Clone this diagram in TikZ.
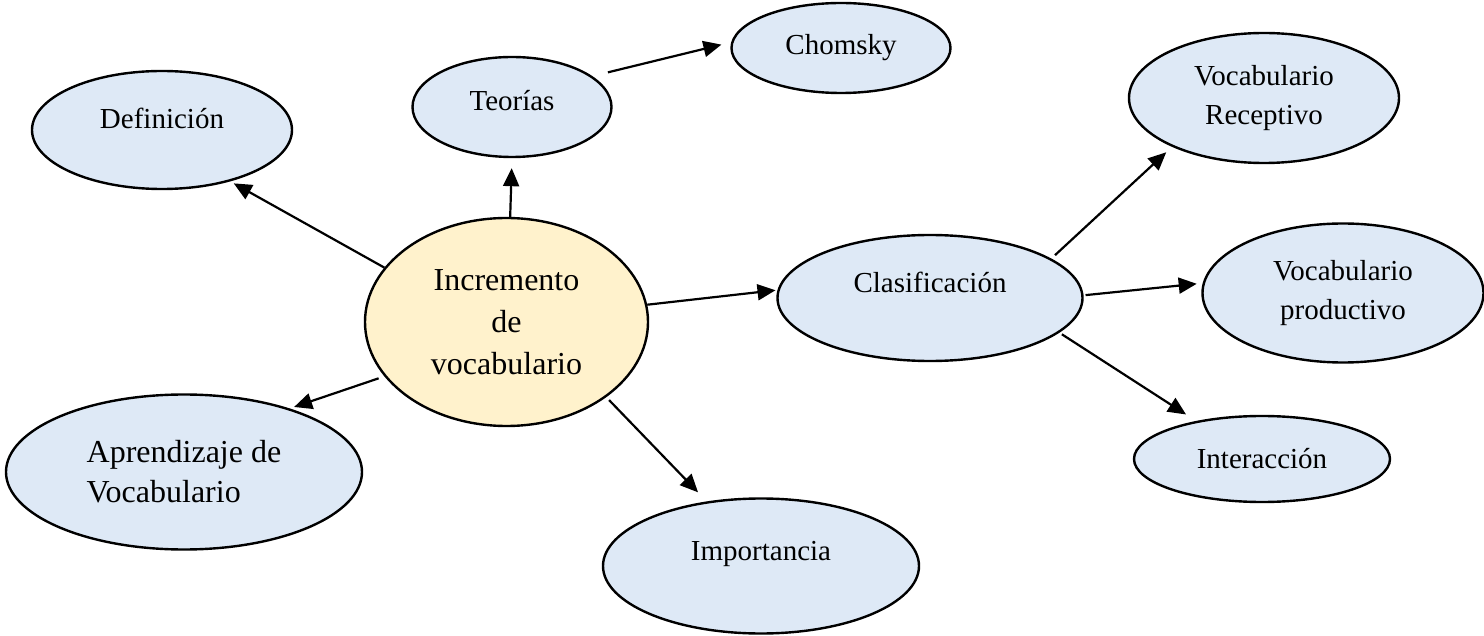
\documentclass[tikz,border=0pt]{standalone}
\usepackage{fontspec}
\setmainfont{Liberation Serif}
\usetikzlibrary{shapes.geometric,arrows.meta}
\definecolor{bubblefill}{RGB}{222,233,246}
\definecolor{corefill}{RGB}{255,242,204}

\begin{document}
\begin{tikzpicture}[x=0.5pt, y=-0.5pt, >={Triangle[length=9pt,width=8pt]}]
\tikzstyle{bubble}=[ellipse, draw, line width=1.2pt, fill=bubblefill, inner sep=0pt, align=center, font=\fontsize{14.5}{19.5}\selectfont]
\tikzstyle{core}=[bubble, fill=corefill, font=\fontsize{16}{21}\selectfont]
\tikzstyle{link}=[->, line width=1.1pt]

\useasboundingbox (0,0) rectangle (1484,636);

% Centre and what hangs off it
\node[core, minimum width=141.5pt, minimum height=104pt] (inc) at (506.5,322) {Incremento\\de\\vocabulario};
\node[bubble, minimum width=130pt, minimum height=59pt, text depth=12pt] (def) at (162,130) {Definición};
\node[bubble, minimum width=99.5pt, minimum height=50pt, text depth=7pt] (teo) at (512,107) {Teorías};
\node[bubble, minimum width=109.5pt, minimum height=45pt] (cho) at (841,48) {Chomsky};
\node[bubble, minimum width=178pt, minimum height=77.5pt, align=left, font=\fontsize{16}{20}\selectfont] (apr) at (184,472) {Aprendizaje de\\Vocabulario};
\node[bubble, minimum width=158pt, minimum height=67.5pt, text depth=15pt] (imp) at (761,566) {Importancia};
\node[bubble, minimum width=152.5pt, minimum height=63pt, text depth=16pt] (cla) at (930,298) {Clasificación};

% Kinds of vocabulary
\node[bubble, minimum width=135pt, minimum height=65pt] (rec) at (1264,98) {Vocabulario\\Receptivo};
\node[bubble, minimum width=140.5pt, minimum height=69.5pt] (pro) at (1343,293) {Vocabulario\\productivo};
\node[bubble, minimum width=128pt, minimum height=43pt] (int) at (1262,459) {Interacción};

% Edges
\draw[link, shorten >=2pt] (inc.156.9) -- (def.-37.1);
\draw[link, shorten >=5pt] (inc.88) -- (teo.south);
\draw[link, shorten <=8pt, shorten >=5pt] (teo.21) -- (cho.177);
\draw[link, shorten <=3pt, shorten >=2.3pt] (inc.204.7) -- (apr.31.9);
\draw[link, shorten <=2pt, shorten >=6.3pt] (inc.-37.8) -- (imp.130.3);
\draw[link, shorten >=1pt] (inc.7.4) -- (cla.177.8);
\draw[link, shorten <=2.5pt, shorten >=4pt] (cla.18.3) -- (rec.208);
\draw[link, shorten <=1pt, shorten >=3pt] (cla.1.9) -- (pro.176.9);
\draw[link, shorten <=1.5pt, shorten >=6pt] (cla.-15) -- (int.150.2);
\end{tikzpicture}
\end{document}
